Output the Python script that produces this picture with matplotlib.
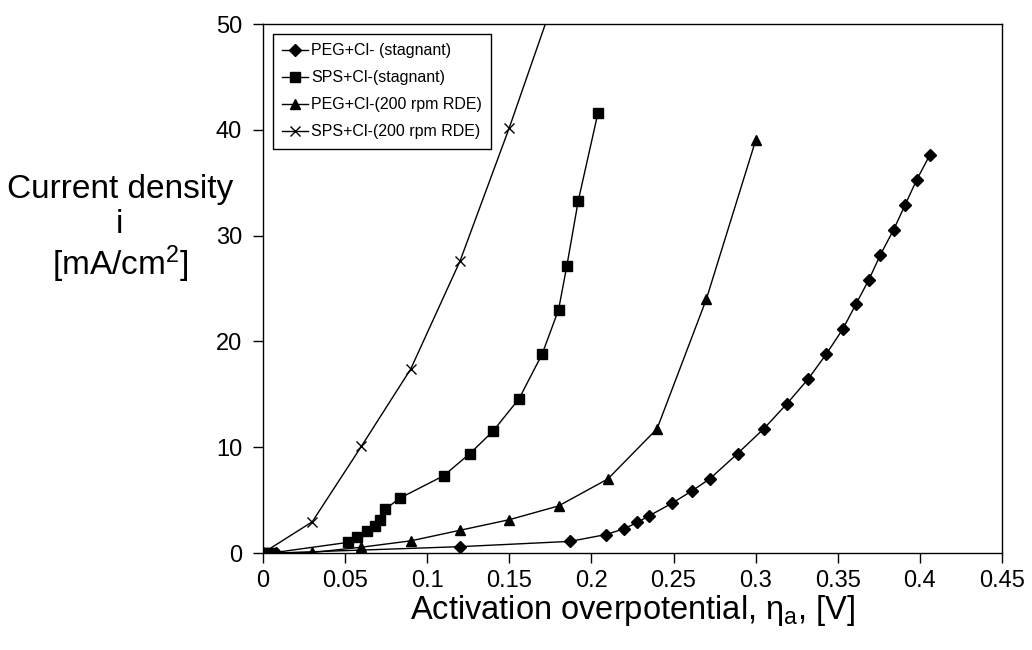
import matplotlib
matplotlib.use("Agg")
import matplotlib.pyplot as plt

plt.rcParams["font.family"] = ["Liberation Sans", "DejaVu Sans"]
plt.rcParams["mathtext.fontset"] = "custom"
plt.rcParams["mathtext.rm"] = "Liberation Sans"
plt.rcParams["mathtext.it"] = "Liberation Sans"

# PEG+Cl- (stagnant)
peg_stag_x = [0.0, 0.008, 0.12, 0.187, 0.209, 0.220, 0.228, 0.235, 0.249, 0.261,
              0.272, 0.289, 0.305, 0.319, 0.332, 0.343, 0.353, 0.361, 0.369,
              0.376, 0.384, 0.391, 0.398, 0.406]
peg_stag_y = [0.0, 0.0, 0.6, 1.1, 1.75, 2.3, 2.9, 3.5, 4.7, 5.85,
              7.0, 9.4, 11.75, 14.1, 16.45, 18.8, 21.15, 23.5, 25.85,
              28.2, 30.55, 32.9, 35.25, 37.6]

# SPS+Cl-(stagnant)
sps_stag_x = [0.0, 0.003, 0.005, 0.0515, 0.057, 0.0635, 0.068, 0.0715, 0.0745,
              0.0835, 0.110, 0.126, 0.140, 0.156, 0.170, 0.180, 0.185, 0.192, 0.204]
sps_stag_y = [0.0, 0.0, 0.0, 1.0, 1.5, 2.05, 2.6, 3.1, 4.15,
              5.2, 7.3, 9.4, 11.5, 14.6, 18.8, 23.0, 27.1, 33.3, 41.6]

# PEG+Cl-(200 rpm RDE)
peg_rde_x = [0.0, 0.03, 0.06, 0.09, 0.12, 0.15, 0.18, 0.21, 0.24, 0.27, 0.30]
peg_rde_y = [0.0, 0.05, 0.55, 1.15, 2.15, 3.15, 4.45, 7.0, 11.75, 24.0, 39.0]

# SPS+Cl-(200 rpm RDE)
sps_rde_x = [0.0, 0.03, 0.06, 0.09, 0.12, 0.15, 0.18]
sps_rde_y = [0.0, 2.95, 10.1, 17.4, 27.6, 40.2, 53.6]

x_ticks = [0, 0.05, 0.1, 0.15, 0.2, 0.25, 0.3, 0.35, 0.4, 0.45]
x_tick_labels = ["0", "0.05", "0.1", "0.15", "0.2", "0.25", "0.3", "0.35", "0.4", "0.45"]
y_ticks = [0, 10, 20, 30, 40, 50]

fig = plt.figure(figsize=(10.32, 6.5), dpi=100)
ax = fig.add_axes([0.2548, 0.1492, 0.7161, 0.8138])

ax.plot(peg_stag_x, peg_stag_y, color="black", lw=1, marker="D", ms=6,
        label="PEG+Cl- (stagnant)")
ax.plot(sps_stag_x, sps_stag_y, color="black", lw=1, marker="s", ms=7,
        label="SPS+Cl-(stagnant)")
ax.plot(peg_rde_x, peg_rde_y, color="black", lw=1, marker="^", ms=7,
        label="PEG+Cl-(200 rpm RDE)")
ax.plot(sps_rde_x, sps_rde_y, color="black", lw=1, marker="x", ms=7, mew=1,
        label="SPS+Cl-(200 rpm RDE)")

ax.set_xlim(0, 0.45)
ax.set_ylim(0, 50)
ax.set_xticks(x_ticks)
ax.set_xticklabels(x_tick_labels)
ax.set_yticks(y_ticks)
ax.tick_params(direction="out", length=7, width=1, labelsize=17, colors="black")
ax.tick_params(axis="y", pad=8)
ax.tick_params(axis="x", pad=5)
for s in ax.spines.values():
    s.set_linewidth(1)
    s.set_color("black")

ax.set_xlabel("Activation overpotential, η$_{\\rm a}$, [V]", fontsize=23.5, labelpad=1)

# y label drawn as three centred lines
for txt, yy in [("Current density", 0.708), ("i", 0.654), ("[mA/cm$^2$]", 0.594)]:
    fig.text(0.1162, yy, txt, fontsize=24, ha="center", va="center")

leg = ax.legend(loc="upper left", fontsize=11.5, frameon=True, fancybox=False,
                edgecolor="black", framealpha=1, handlelength=1.6,
                handletextpad=0.2, labelspacing=0.75, borderaxespad=0.6,
                borderpad=0.6)
leg.get_frame().set_linewidth(1)

fig.savefig("out.png", dpi=100)
